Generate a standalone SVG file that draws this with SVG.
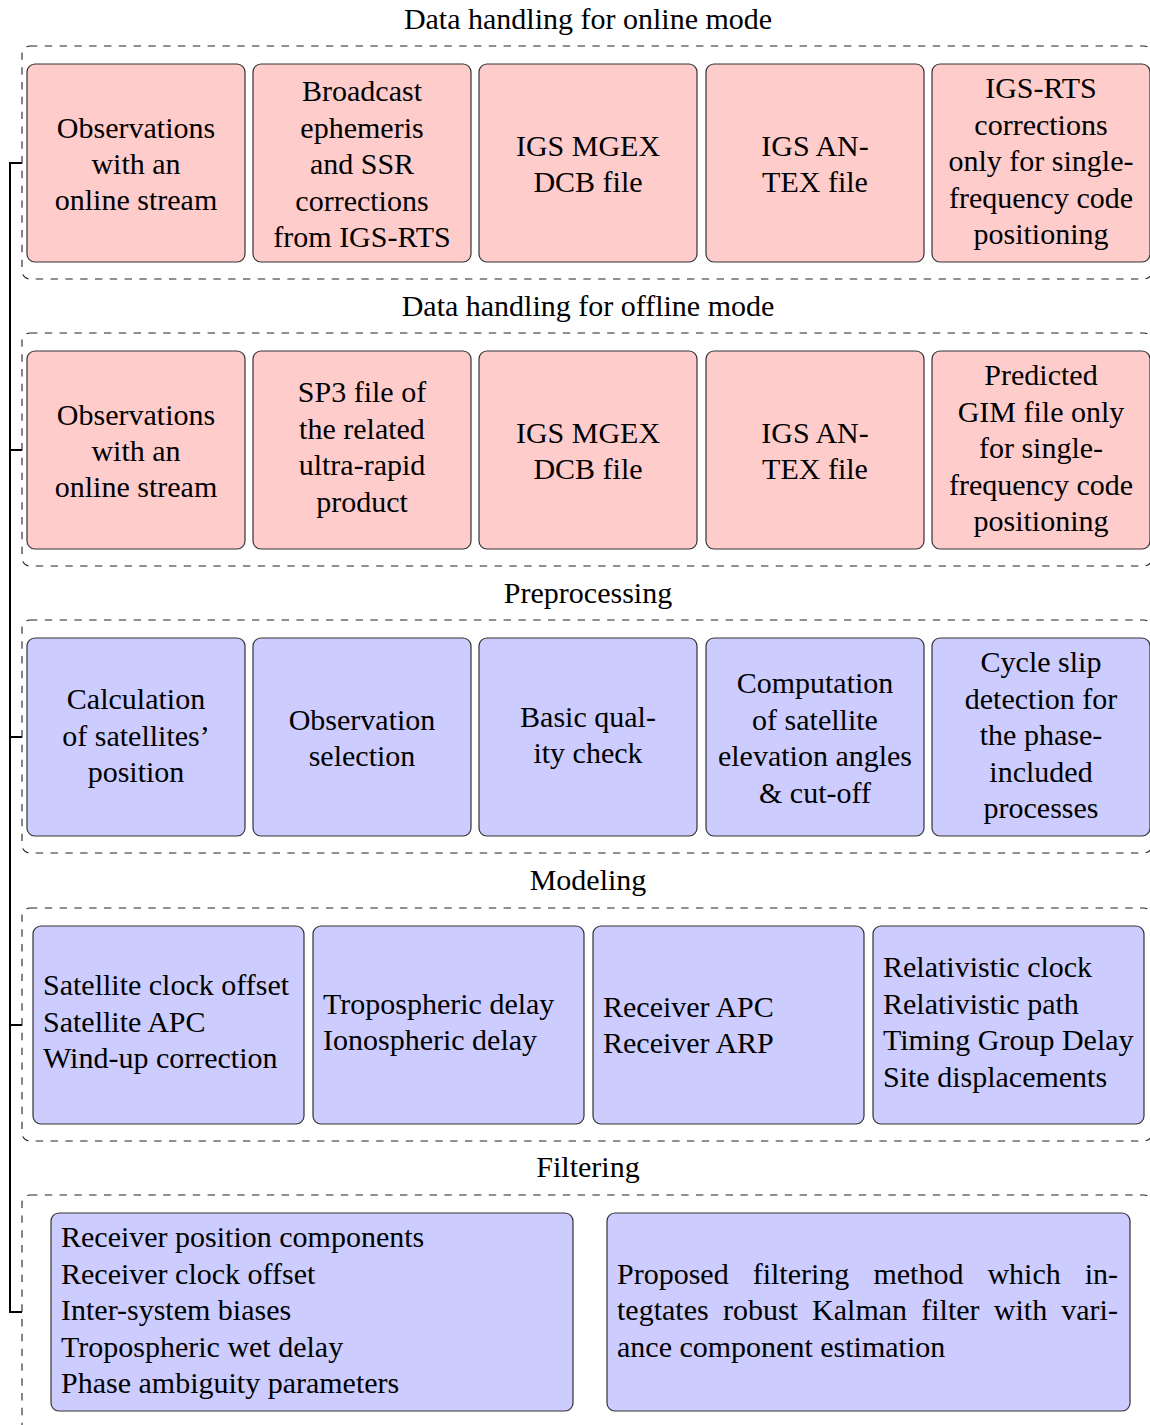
<svg xmlns="http://www.w3.org/2000/svg" width="1150" height="1425" viewBox="0 0 1150 1425">
<style>
text { font-family: "Liberation Serif", "Times New Roman", serif; font-size: 30px; fill: #000; }
.c { text-anchor: middle; }
.grp { fill: none; stroke: #222; stroke-width: 1.1; stroke-dasharray: 7.4 7.4; }
.pink { fill: #FFCCCC; stroke: #333; stroke-width: 1.2; }
.blue { fill: #CCCCFF; stroke: #333; stroke-width: 1.2; }
.conn { fill: none; stroke: #000; stroke-width: 2; }
</style>
<rect width="1150" height="1425" fill="#fff"/>

<g id="connectors">
  <path class="conn" d="M22,163 H10 V1312 H22"/>
  <path class="conn" d="M10,450 H22 M10,737 H22 M10,1025 H22"/>
</g>

<!-- Section 1 -->
<g id="sec-online">
  <text class="c" x="588" y="29">Data handling for online mode</text>
  <rect class="grp" x="22" y="46" width="1130" height="233" rx="8"/>
</g>
<g id="on1"><rect class="pink" x="27" y="64" width="218" height="198" rx="8"/>
  <text class="c"><tspan x="136" y="138">Observations</tspan><tspan x="136" y="174">with an</tspan><tspan x="136" y="210">online stream</tspan></text></g>
<g id="on2"><rect class="pink" x="253" y="64" width="218" height="198" rx="8"/>
  <text class="c"><tspan x="362" y="101">Broadcast</tspan><tspan x="362" y="137.5">ephemeris</tspan><tspan x="362" y="174">and SSR</tspan><tspan x="362" y="210.5">corrections</tspan><tspan x="362" y="247">from IGS-RTS</tspan></text></g>
<g id="on3"><rect class="pink" x="479" y="64" width="218" height="198" rx="8"/>
  <text class="c"><tspan x="588" y="156">IGS MGEX</tspan><tspan x="588" y="192">DCB file</tspan></text></g>
<g id="on4"><rect class="pink" x="706" y="64" width="218" height="198" rx="8"/>
  <text class="c"><tspan x="815" y="156">IGS AN-</tspan><tspan x="815" y="192">TEX file</tspan></text></g>
<g id="on5"><rect class="pink" x="932" y="64" width="218" height="198" rx="8"/>
  <text class="c"><tspan x="1041" y="98">IGS-RTS</tspan><tspan x="1041" y="134.5">corrections</tspan><tspan x="1041" y="171">only for single-</tspan><tspan x="1041" y="207.5">frequency code</tspan><tspan x="1041" y="244">positioning</tspan></text></g>

<!-- Section 2 -->
<g id="sec-offline">
  <text class="c" x="588" y="316">Data handling for offline mode</text>
  <rect class="grp" x="22" y="333" width="1130" height="233" rx="8"/>
</g>
<g id="off1"><rect class="pink" x="27" y="351" width="218" height="198" rx="8"/>
  <text class="c"><tspan x="136" y="425">Observations</tspan><tspan x="136" y="461">with an</tspan><tspan x="136" y="497">online stream</tspan></text></g>
<g id="off2"><rect class="pink" x="253" y="351" width="218" height="198" rx="8"/>
  <text class="c"><tspan x="362" y="402">SP3 file of</tspan><tspan x="362" y="439">the related</tspan><tspan x="362" y="475">ultra-rapid</tspan><tspan x="362" y="512">product</tspan></text></g>
<g id="off3"><rect class="pink" x="479" y="351" width="218" height="198" rx="8"/>
  <text class="c"><tspan x="588" y="443">IGS MGEX</tspan><tspan x="588" y="479">DCB file</tspan></text></g>
<g id="off4"><rect class="pink" x="706" y="351" width="218" height="198" rx="8"/>
  <text class="c"><tspan x="815" y="443">IGS AN-</tspan><tspan x="815" y="479">TEX file</tspan></text></g>
<g id="off5"><rect class="pink" x="932" y="351" width="218" height="198" rx="8"/>
  <text class="c"><tspan x="1041" y="385">Predicted</tspan><tspan x="1041" y="421.5">GIM file only</tspan><tspan x="1041" y="458">for single-</tspan><tspan x="1041" y="494.5">frequency code</tspan><tspan x="1041" y="531">positioning</tspan></text></g>

<!-- Section 3 -->
<g id="sec-pre">
  <text class="c" x="588" y="603">Preprocessing</text>
  <rect class="grp" x="22" y="620" width="1130" height="233" rx="8"/>
</g>
<g id="pre1"><rect class="blue" x="27" y="638" width="218" height="198" rx="8"/>
  <text class="c"><tspan x="136" y="709">Calculation</tspan><tspan x="136" y="745.5">of satellites’</tspan><tspan x="136" y="782">position</tspan></text></g>
<g id="pre2"><rect class="blue" x="253" y="638" width="218" height="198" rx="8"/>
  <text class="c"><tspan x="362" y="730">Observation</tspan><tspan x="362" y="766">selection</tspan></text></g>
<g id="pre3"><rect class="blue" x="479" y="638" width="218" height="198" rx="8"/>
  <text class="c"><tspan x="588" y="727">Basic qual-</tspan><tspan x="588" y="763">ity check</tspan></text></g>
<g id="pre4"><rect class="blue" x="706" y="638" width="218" height="198" rx="8"/>
  <text class="c"><tspan x="815" y="693">Computation</tspan><tspan x="815" y="730">of satellite</tspan><tspan x="815" y="766">elevation angles</tspan><tspan x="815" y="803">&amp; cut-off</tspan></text></g>
<g id="pre5"><rect class="blue" x="932" y="638" width="218" height="198" rx="8"/>
  <text class="c"><tspan x="1041" y="672">Cycle slip</tspan><tspan x="1041" y="708.5">detection for</tspan><tspan x="1041" y="745">the phase-</tspan><tspan x="1041" y="781.5">included</tspan><tspan x="1041" y="818">processes</tspan></text></g>

<!-- Section 4 -->
<g id="sec-model">
  <text class="c" x="588" y="890">Modeling</text>
  <rect class="grp" x="22" y="908" width="1130" height="233" rx="8"/>
</g>
<g id="mod1"><rect class="blue" x="33" y="926" width="271" height="198" rx="8"/>
  <text><tspan x="43" y="995">Satellite clock offset</tspan><tspan x="43" y="1031.5">Satellite APC</tspan><tspan x="43" y="1068">Wind-up correction</tspan></text></g>
<g id="mod2"><rect class="blue" x="313" y="926" width="271" height="198" rx="8"/>
  <text><tspan x="323" y="1014">Tropospheric delay</tspan><tspan x="323" y="1050">Ionospheric delay</tspan></text></g>
<g id="mod3"><rect class="blue" x="593" y="926" width="271" height="198" rx="8"/>
  <text><tspan x="603" y="1017">Receiver APC</tspan><tspan x="603" y="1053">Receiver ARP</tspan></text></g>
<g id="mod4"><rect class="blue" x="873" y="926" width="271" height="198" rx="8"/>
  <text><tspan x="883" y="977">Relativistic clock</tspan><tspan x="883" y="1013.5">Relativistic path</tspan><tspan x="883" y="1050">Timing Group Delay</tspan><tspan x="883" y="1086.5">Site displacements</tspan></text></g>

<!-- Section 5 -->
<g id="sec-filter">
  <text class="c" x="588" y="1177">Filtering</text>
  <rect class="grp" x="22" y="1195" width="1130" height="240" rx="8"/>
</g>
<g id="fil1"><rect class="blue" x="51" y="1213" width="522" height="198" rx="8"/>
  <text><tspan x="61" y="1247">Receiver position components</tspan><tspan x="61" y="1283.5">Receiver clock offset</tspan><tspan x="61" y="1320">Inter-system biases</tspan><tspan x="61" y="1356.5">Tropospheric wet delay</tspan><tspan x="61" y="1393">Phase ambiguity parameters</tspan></text></g>
<g id="fil2"><rect class="blue" x="607" y="1213" width="523" height="198" rx="8"/>
  <text><tspan x="617" y="1283.5">Proposed</tspan><tspan x="752.7" y="1283.5">filtering</tspan><tspan x="873.4" y="1283.5">method</tspan><tspan x="987.4" y="1283.5">which</tspan><tspan x="1084.7" y="1283.5">in-</tspan></text>
  <text><tspan x="617" y="1320">tegtates</tspan><tspan x="722.9" y="1320">robust</tspan><tspan x="812.1" y="1320">Kalman</tspan><tspan x="921.3" y="1320">filter</tspan><tspan x="993.8" y="1320">with</tspan><tspan x="1061.3" y="1320">vari-</tspan></text>
  <text x="617" y="1356.5">ance component estimation</text></g>
</svg>
